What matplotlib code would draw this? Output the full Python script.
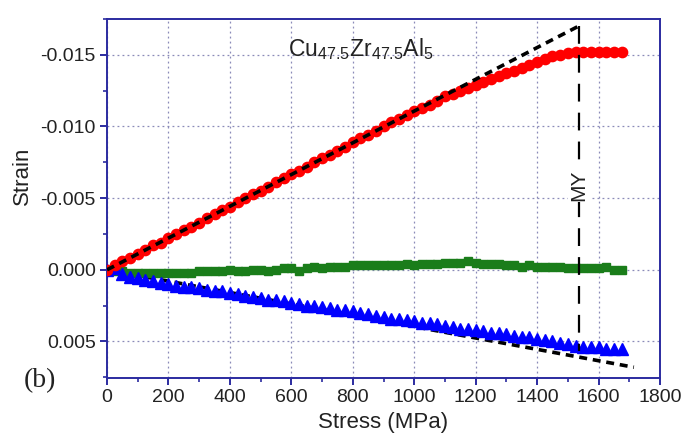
import matplotlib
matplotlib.use("Agg")
import matplotlib.pyplot as plt
from matplotlib.ticker import MultipleLocator, FormatStrFormatter

# ---------------- data ----------------
stress = [0, 25, 50, 75, 100, 125, 150, 175, 200, 225, 250, 275, 300, 325, 350, 375,
          400, 425, 450, 475, 500, 525, 550, 575, 600, 625, 650, 675, 700, 725, 750, 775,
          800, 825, 850, 875, 900, 925, 950, 975, 1000, 1025, 1050, 1075, 1100, 1125, 1150, 1175,
          1200, 1225, 1250, 1275, 1300, 1325, 1350, 1375, 1400, 1425, 1450, 1475, 1500, 1525, 1550, 1575,
          1600, 1625, 1650, 1675]

strain_red = [0.0000, -0.0003, -0.0006, -0.0008, -0.0011, -0.0014, -0.0017, -0.0019,
              -0.0022, -0.0025, -0.0028, -0.0030, -0.0033, -0.0036, -0.0039, -0.0042,
              -0.0044, -0.0047, -0.0050, -0.0053, -0.0055, -0.0058, -0.0061, -0.0064,
              -0.0067, -0.0069, -0.0072, -0.0075, -0.0078, -0.0080, -0.0083, -0.0086,
              -0.0089, -0.0092, -0.0094, -0.0097, -0.0100, -0.0103, -0.0105, -0.0108,
              -0.0111, -0.0113, -0.0115, -0.0118, -0.0121, -0.0123, -0.0125, -0.0127,
              -0.0129, -0.0131, -0.0133, -0.0135, -0.0137, -0.0139, -0.0141, -0.0143,
              -0.0145, -0.0147, -0.0149, -0.0150, -0.0151, -0.0152, -0.0152, -0.0152,
              -0.0152, -0.0152, -0.0152, -0.0152]

strain_green = [0.0000, 0.0001, 0.0001, 0.0002, 0.0002, 0.0002, 0.0002, 0.0002,
                0.0002, 0.0002, 0.0002, 0.0002, 0.0001, 0.0001, 0.0001, 0.0001,
                0.0000, 0.0001, 0.0001, 0.0000, 0.0000, 0.0001, 0.0000, -0.0001,
                -0.0001, 0.0001, -0.0001, -0.0002, -0.0001, -0.0002, -0.0002, -0.0002,
                -0.0003, -0.0003, -0.0003, -0.0003, -0.0003, -0.0003, -0.0003, -0.0004,
                -0.0003, -0.0004, -0.0004, -0.0004, -0.0005, -0.0005, -0.0005, -0.0006,
                -0.0005, -0.0004, -0.0004, -0.0004, -0.0003, -0.0003, -0.0002, -0.0003,
                -0.0002, -0.0002, -0.0002, -0.0002, -0.0001, -0.0001, -0.0001, -0.0001,
                -0.0001, -0.0002, 0.0000, 0.0000]

strain_blue = [0.0000, -0.0001, 0.0003, 0.0005, 0.0006, 0.0007, 0.0008, 0.0009,
               0.0010, 0.0011, 0.0012, 0.0012, 0.0013, 0.0014, 0.0015, 0.0015,
               0.0016, 0.0017, 0.0018, 0.0019, 0.0020, 0.0021, 0.0021, 0.0022,
               0.0023, 0.0024, 0.0025, 0.0025, 0.0026, 0.0027, 0.0028, 0.0028,
               0.0029, 0.0030, 0.0031, 0.0032, 0.0033, 0.0034, 0.0034, 0.0035,
               0.0036, 0.0037, 0.0037, 0.0038, 0.0039, 0.0040, 0.0041, 0.0041,
               0.0042, 0.0043, 0.0044, 0.0044, 0.0045, 0.0046, 0.0047, 0.0047,
               0.0048, 0.0049, 0.0050, 0.0051, 0.0052, 0.0053, 0.0054, 0.0054,
               0.0054, 0.0055, 0.0055, 0.0055]

fit_red_stress = [0, 1535]
fit_red_strain = [0.0, -0.0170]
fit_blue_stress = [0, 1715]
fit_blue_strain = [0.0, 0.0068]

my_stress = [1535, 1535]
my_strain = [-0.0170, 0.0057]

x_ticks = [0, 200, 400, 600, 800, 1000, 1200, 1400, 1600, 1800]
y_ticks = [-0.015, -0.010, -0.005, 0.000, 0.005]

# ---------------- figure ----------------
plt.rcParams['font.family'] = ['Liberation Sans', 'DejaVu Sans']
plt.rcParams['mathtext.default'] = 'regular'
plt.rcParams['axes.unicode_minus'] = False

W, H = 683, 438
fig = plt.figure(figsize=(W / 100, H / 100), dpi=100)
ax = fig.add_axes([107 / W, 1 - 378 / H, (660 - 107) / W, (378 - 19) / H])

spine_col = '#2b2ba0'
grid_col = '#8a8ab8'
text_col = '#222222'

ax.set_xlim(0, 1800)
ax.set_ylim(0.00755, -0.0175)

ax.set_xticks(x_ticks)
ax.set_yticks(y_ticks)
ax.xaxis.set_minor_locator(MultipleLocator(100))
ax.yaxis.set_minor_locator(MultipleLocator(0.0025))
ax.yaxis.set_major_formatter(FormatStrFormatter('%.3f'))

ax.grid(True, which='major', linestyle=(0, (1.5, 2.5)), color=grid_col, linewidth=0.9)
ax.set_axisbelow(True)

for s in ax.spines.values():
    s.set_color(spine_col)
    s.set_linewidth(1.4)

ax.tick_params(axis='both', which='major', direction='out', length=5, width=1.4,
               color=spine_col, labelsize=14, labelcolor=text_col)
ax.tick_params(axis='both', which='minor', direction='out', length=3, width=1.2, color=spine_col)
ax.tick_params(axis='x', pad=3)
ax.tick_params(axis='y', pad=3)

# top (cut-off) labels, as in the reference
sec = ax.secondary_xaxis('top')
sec.set_xticks(x_ticks)
sec.tick_params(length=0, pad=10.5, labelsize=14, labelcolor=text_col)
sec.spines['top'].set_visible(False)

# data
ax.plot(stress, strain_green, linestyle='none', marker='s', markersize=6.4,
        color='#1a7d1a', zorder=3)
ax.plot(stress, strain_blue, linestyle='none', marker='^', markersize=8.5,
        color='#0000ff', zorder=3)
ax.plot(stress, strain_red, linestyle='none', marker='o', markersize=7.4,
        color='#ff0000', zorder=3)

ax.plot(fit_red_stress, fit_red_strain, color='black', linewidth=2.6,
        linestyle=(0, (2.2, 1.6)), zorder=4)
ax.plot(fit_blue_stress, fit_blue_strain, color='black', linewidth=2.6,
        linestyle=(0, (2.2, 1.6)), zorder=2.5)

ax.plot(my_stress, my_strain, color='black', linewidth=1.6,
        linestyle=(0, (8, 5)), zorder=4)
ax.text(my_stress[0], -0.0059, 'MY', rotation=90, ha='center', va='center',
        fontsize=15, color=text_col, zorder=5,
        bbox=dict(facecolor='white', edgecolor='none', pad=1.0))

ax.text(0.459, 0.916, 'Cu$_{47.5}$Zr$_{47.5}$Al$_{5}$', transform=ax.transAxes,
        ha='center', va='center', fontsize=16.5, color=text_col)

ax.set_xlabel('Stress (MPa)', fontsize=16, color=text_col, labelpad=4)
ax.set_ylabel('Strain', fontsize=16, color=text_col)
ax.yaxis.set_label_coords(-0.134, 0.563)

fig.text(40 / W, 1 - 381 / H, '(b)', family=['Liberation Serif', 'DejaVu Serif'],
         fontsize=20, ha='center', va='center', color=text_col)

fig.savefig('out.png', dpi=100)
